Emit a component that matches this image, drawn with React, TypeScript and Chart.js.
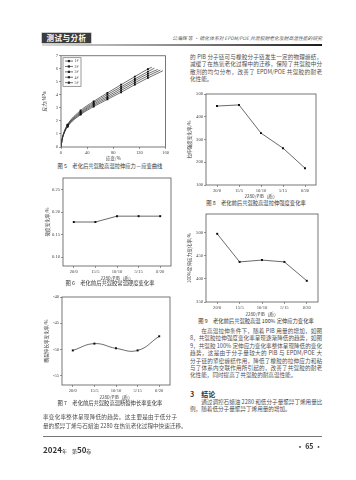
import React, { useEffect, useRef } from 'react';
import { Chart, registerables } from 'chart.js';
Chart.register(...registerables);

const CJK = '"Noto Sans CJK SC", "DejaVu Sans", sans-serif';
const SERIF = '"Liberation Serif", "DejaVu Serif", serif';
const INK = '#505050';

// ---------- data ----------
const ratios = ['20/0', '15/5', '10/10', '5/15', '0/20'];
const ratioTitle = '2280/PIB（质）';

// Fig 5: stress-strain curves
const fig5Names = ['1#', '2#', '3#', '4#', '5#'];
const fig5Strain1 = [0, 1.5, 4, 10, 30, 50, 71, 92, 113, 133, 139];
const fig5Strain2 = [0, 1.5, 4, 10, 30, 50, 71, 92, 113, 133, 143];
const fig5Strain3 = [0, 1.5, 4, 10, 30, 50, 71, 92, 113, 133, 148];
const fig5Strain4 = [0, 1.5, 4, 10, 30, 50, 71, 92, 113, 133, 152];
const fig5Strain5 = [0, 1.5, 4, 10, 30, 50, 71, 92, 113, 133, 156];
const fig5Stress1 = [0, 0.55, 1.05, 1.72, 2.8, 3.5, 4.15, 4.78, 5.4, 5.98, 6.12];
const fig5Stress2 = [0, 0.55, 1.03, 1.68, 2.7, 3.4, 4.02, 4.62, 5.22, 5.78, 6.05];
const fig5Stress3 = [0, 0.54, 1.0, 1.64, 2.62, 3.3, 3.88, 4.48, 5.08, 5.62, 5.95];
const fig5Stress4 = [0, 0.53, 0.98, 1.6, 2.55, 3.2, 3.76, 4.34, 4.93, 5.46, 5.9];
const fig5Stress5 = [0, 0.52, 0.95, 1.55, 2.48, 3.1, 3.65, 4.2, 4.78, 5.3, 5.85];
const fig5Marked = [false, false, false, true, true, true, true, true, true, true, false];
const fig5XTicks = [0, 40, 80, 120, 160];
const fig5YTicks = [0, 1, 2, 3, 4, 5, 6, 7];

// Fig 6: hardness change rate
const fig6Values = [0.178, 0.178, 0.191, 0.191, 0.191];
const fig6Ticks = [0.1, 0.15, 0.2, 0.25];
// Fig 7: elongation change rate
const fig7Values = [-50.2, -48.9, -49.8, -50.2, -47.5];
const fig7Ticks = [-55, -50, -45, -40];
// Fig 8: tensile strength change rate
const fig8Values = [447, 452, 328, 262, 174];
const fig8Ticks = [100, 200, 300, 400, 500];
// Fig 9: 100% modulus change rate
const fig9Values = [498, 437, 441, 437, 396];
const fig9Ticks = [350, 400, 450, 500];

// ---------- chart helpers ----------
const boxPlugin = {
  id: 'box',
  afterDraw(chart: any) {
    const { ctx, chartArea: a } = chart;
    ctx.save();
    ctx.strokeStyle = '#555';
    ctx.lineWidth = 0.8;
    ctx.strokeRect(a.left, a.top, a.right - a.left, a.bottom - a.top);
    ctx.restore();
  },
};

const legendPlugin = {
  id: 'miniLegend',
  afterDraw(chart: any) {
    const names = chart.options.plugins.miniLegend?.names;
    if (!names) return;
    const { ctx, chartArea: a } = chart;
    const x0 = a.left + 2, y0 = a.top + 2, w = 18, rowH = 5.4;
    ctx.save();
    ctx.strokeStyle = '#555';
    ctx.lineWidth = 0.6;
    ctx.strokeRect(x0, y0, w, rowH * names.length + 1.5);
    ctx.font = `4px ${SERIF}`;
    ctx.textBaseline = 'middle';
    names.forEach((n: string, i: number) => {
      const y = y0 + 3.3 + i * rowH;
      ctx.strokeStyle = '#333';
      ctx.lineWidth = 0.7;
      ctx.beginPath();
      ctx.moveTo(x0 + 2, y);
      ctx.lineTo(x0 + 10, y);
      ctx.stroke();
      ctx.fillStyle = '#222';
      ctx.fillRect(x0 + 4.8, y - 1.1, 2.2, 2.2);
      ctx.fillStyle = '#444';
      ctx.fillText(n, x0 + 11.5, y + 0.2);
    });
    ctx.restore();
  },
};

function axisCommon(title: string, size: number, fixed: number, isX: boolean) {
  return {
    grid: { display: true, drawOnChartArea: false, drawTicks: true, tickLength: 2, color: '#555', lineWidth: 0.6 },
    border: { display: false },
    title: {
      display: true,
      text: title,
      color: '#444',
      font: { size: 4.6, family: CJK },
      padding: isX ? { top: 0.5, bottom: 0 } : { top: 0, bottom: 1 },
    },
    ticks: {
      color: '#444',
      font: { size: size, family: SERIF },
      padding: 1,
      maxRotation: 0,
      autoSkip: false,
    },
    afterFit: (s: any) => {
      if (isX) s.height = fixed;
      else s.width = fixed;
    },
  };
}

function catConfig(opts: {
  values: number[]; min: number; max: number; ticks: number[]; dec: number;
  yTitle: string; yW: number; xH: number; padTop: number; padRight: number; tension: number;
}) {
  const yAxis: any = axisCommon(opts.yTitle, 4.6, opts.yW, false);
  yAxis.min = opts.min;
  yAxis.max = opts.max;
  yAxis.afterBuildTicks = (s: any) => { s.ticks = opts.ticks.map((v) => ({ value: v })); };
  yAxis.ticks.callback = (v: any) => Number(v).toFixed(opts.dec);
  const xAxis: any = axisCommon(ratioTitle, 4.6, opts.xH, true);
  xAxis.offset = true;
  return {
    type: 'line',
    data: {
      labels: ratios,
      datasets: [{
        data: opts.values,
        borderColor: '#444',
        borderWidth: 0.8,
        pointStyle: 'rect',
        pointRadius: 1.4,
        pointBackgroundColor: '#111',
        pointBorderColor: '#111',
        pointBorderWidth: 0,
        tension: opts.tension,
      }],
    },
    options: {
      animation: false,
      responsive: false,
      devicePixelRatio: 1,
      layout: { padding: { top: opts.padTop, right: opts.padRight, left: 0, bottom: 0 } },
      plugins: { legend: { display: false }, tooltip: { enabled: false } },
      scales: { x: xAxis, y: yAxis },
    },
    plugins: [boxPlugin],
  };
}

function fig5Config() {
  const strains = [fig5Strain1, fig5Strain2, fig5Strain3, fig5Strain4, fig5Strain5];
  const stresses = [fig5Stress1, fig5Stress2, fig5Stress3, fig5Stress4, fig5Stress5];
  const xAxis: any = axisCommon('应变/%', 4.6, 14, true);
  xAxis.type = 'linear';
  xAxis.min = 0; xAxis.max = 160;
  xAxis.afterBuildTicks = (s: any) => { s.ticks = fig5XTicks.map((v) => ({ value: v })); };
  const yAxis: any = axisCommon('应力/MPa', 4.6, 20, false);
  yAxis.type = 'linear';
  yAxis.min = 0; yAxis.max = 7;
  yAxis.afterBuildTicks = (s: any) => { s.ticks = fig5YTicks.map((v) => ({ value: v })); };
  return {
    type: 'line',
    data: {
      datasets: strains.map((st, i) => ({
        label: fig5Names[i],
        data: st.map((x, j) => ({ x, y: stresses[i][j] })),
        borderColor: '#333',
        borderWidth: 0.7,
        pointStyle: 'rect',
        pointRadius: fig5Marked.map((m) => (m ? 1.3 : 0)),
        pointBackgroundColor: '#111',
        pointBorderWidth: 0,
        cubicInterpolationMode: 'monotone',
      })),
    },
    options: {
      animation: false,
      responsive: false,
      devicePixelRatio: 1,
      layout: { padding: { top: 3, right: 4, left: 0, bottom: 0 } },
      plugins: { legend: { display: false }, tooltip: { enabled: false }, miniLegend: { names: fig5Names } },
      scales: { x: xAxis, y: yAxis },
    },
    plugins: [boxPlugin, legendPlugin],
  };
}

function ChartCanvas({ left, top, width, height, make }: any) {
  const ref = useRef<HTMLCanvasElement>(null);
  useEffect(() => {
    const c = new Chart(ref.current as HTMLCanvasElement, make());
    return () => c.destroy();
  }, []);
  return (
    <canvas ref={ref} width={width} height={height}
      style={{ position: 'absolute', left, top, width, height }} />
  );
}

// ---------- text ----------
function Lines({ left, top, width, lh, size, lines, lastFull, indentFirst, color }: any) {
  return (
    <div style={{ position: 'absolute', left, top, width }}>
      {lines.map((t: string, i: number) => {
        const isLast = i === lines.length - 1 && !lastFull;
        return (
          <div key={i} style={{
            height: lh, lineHeight: `${lh}px`, fontSize: size, fontFamily: CJK,
            color: color || INK, whiteSpace: 'nowrap', overflow: 'visible',
            textAlign: 'justify', textAlignLast: isLast ? 'left' : 'justify',
            paddingLeft: i === 0 && indentFirst ? size * 2 : 0,
          }}>{t}</div>
        );
      })}
    </div>
  );
}

function Caption({ left, top, width, text }: any) {
  return (
    <div style={{
      position: 'absolute', left, top, width, textAlign: 'center',
      fontSize: 5.3, fontFamily: CJK, color: '#333', whiteSpace: 'nowrap', lineHeight: '7px',
    }}>{text}</div>
  );
}

export default function App() {
  useEffect(() => {
    document.body.style.margin = '0';
  }, []);
  return (
    <div style={{ position: 'relative', width: 356, height: 480, background: '#fff', overflow: 'hidden' }}>
      {/* header */}
      <div style={{
        position: 'absolute', left: 42, top: 33, width: 49, height: 10, background: '#3c3c3c',
        color: '#fff', fontFamily: CJK, fontWeight: 700, fontSize: 7.5, lineHeight: '10px',
        textAlign: 'center', letterSpacing: 0.5, boxShadow: '0 0 0 0.5px #999',
      }}>测试与分析</div>
      <div style={{
        position: 'absolute', left: 140, top: 35, width: 182, textAlign: 'right',
        fontFamily: CJK, fontStyle: 'italic', fontSize: 4.8, color: '#555', whiteSpace: 'nowrap', lineHeight: '6px',
      }}>公海辉 等 · 硫化体系对 EPDM/POE 共混胶耐老化及耐高温性能的研究</div>
      <div style={{
        position: 'absolute', left: 42, top: 44, width: 280, height: 2,
        background: 'linear-gradient(to right, #d8d8d8, #888 50%, #1a1a1a)',
      }} />

      {/* right column top text */}
      <Lines left={190} top={54} width={132} lh={7.4} size={5.6} lines={[
        '的 PIB 分子链可与橡胶分子链发生一定的物理缠结，',
        '减缓了在热氧老化过程中的迁移，保障了共混胶中分',
        '散剂的均匀分布，改善了 EPDM/POE 共混胶的耐老',
        '化性能。',
      ]} />

      {/* Fig 5 */}
      <ChartCanvas left={41} top={52} width={129} height={109} make={fig5Config} />
      <Caption left={43} top={163} width={134} text="图 5　老化后共混胶高温拉伸应力－应变曲线" />

      {/* Fig 6 */}
      <ChartCanvas left={44} top={174} width={131} height={107} make={() => catConfig({
        values: fig6Values, min: 0.08, max: 0.276, ticks: fig6Ticks, dec: 2,
        yTitle: '硬度变化率/%', yW: 19, xH: 15, padTop: 3, padRight: 2, tension: 0,
      })} />
      <Caption left={43} top={280} width={134} text="图 6　老化前后共混胶常温硬度变化率" />

      {/* Fig 7 */}
      <ChartCanvas left={43} top={293} width={131} height={107} make={() => catConfig({
        values: fig7Values, min: -56.8, max: -40, ticks: fig7Ticks, dec: 0,
        yTitle: '断裂伸长率变化率/%', yW: 19, xH: 15, padTop: 3, padRight: 2, tension: 0.45,
      })} />
      <Caption left={43} top={400} width={134} text="图 7　老化前后共混胶高温断裂伸长率变化率" />

      {/* left column bottom text */}
      <Lines left={43} top={413} width={134} lh={8.5} size={5.6} lastFull lines={[
        '率变化率整体呈现降低的趋势。这主要是由于低分子',
        '量的聚异丁烯与石蜡油 2280 在热氧老化过程中快速迁移。',
      ]} />

      {/* Fig 8 */}
      <ChartCanvas left={186} top={90} width={134} height={109} make={() => catConfig({
        values: fig8Values, min: 100, max: 500, ticks: fig8Ticks, dec: 0,
        yTitle: '拉伸强度变化率/%', yW: 20, xH: 14, padTop: 3, padRight: 3, tension: 0,
      })} />
      <Caption left={190} top={200} width={132} text="图 8　老化前后共混胶高温拉伸强度变化率" />

      {/* Fig 9 */}
      <ChartCanvas left={186} top={210} width={136} height={107} make={() => catConfig({
        values: fig9Values, min: 350, max: 541, ticks: fig9Ticks, dec: 0,
        yTitle: '100%定伸应力变化率/%', yW: 20, xH: 15, padTop: 3, padRight: 3, tension: 0,
      })} />
      <Caption left={190} top={318} width={132} text="图 9　老化前后共混胶高温 100% 定伸应力变化率" />

      {/* right column bottom text */}
      <Lines left={190} top={328} width={132} lh={7.4} size={5.6} indentFirst lines={[
        '在高温拉伸条件下，随着 PIB 用量的增加，如图',
        '8，共混胶拉伸强度变化率呈现逐渐降低的趋势，如图',
        '9，共混胶 100% 定伸应力变化率整体呈现降低的变化',
        '趋势，这是由于分子量较大的 PIB 与 EPDM/POE 大',
        '分子链的紧密缠结作用，降低了橡胶的拉伸应力和粘',
        '与了体系内交联作用所引起的，改善了共混胶的耐老',
        '化性能，同时提高了共混胶的耐高温性能。',
      ]} />
      <div style={{
        position: 'absolute', left: 190, top: 390, fontFamily: CJK, fontWeight: 700,
        fontSize: 7, color: '#333', lineHeight: '9px', whiteSpace: 'nowrap',
      }}>3　结论</div>
      <Lines left={190} top={399} width={132} lh={7.4} size={5.6} indentFirst lines={[
        '通过调控石蜡油 2280 和低分子量聚异丁烯用量比',
        '例，随着低分子量聚异丁烯用量的增加。',
      ]} />

      {/* footer */}
      <div style={{ position: 'absolute', left: 43, top: 436, width: 279, height: 1, background: '#777' }} />
      <div style={{
        position: 'absolute', left: 43, top: 441, fontFamily: CJK, color: '#333',
        whiteSpace: 'nowrap', lineHeight: '10px',
      }}>
        <span style={{ fontSize: 8, fontWeight: 700 }}>2024</span>
        <span style={{ fontSize: 5 }}>年　第</span>
        <span style={{ fontSize: 8, fontWeight: 700 }}>50</span>
        <span style={{ fontSize: 5 }}>卷</span>
      </div>
      <div style={{
        position: 'absolute', left: 296, top: 441, width: 26, textAlign: 'right', fontFamily: CJK,
        color: '#333', fontWeight: 700, fontSize: 7, lineHeight: '10px', whiteSpace: 'nowrap',
      }}>· 65 ·</div>
    </div>
  );
}
